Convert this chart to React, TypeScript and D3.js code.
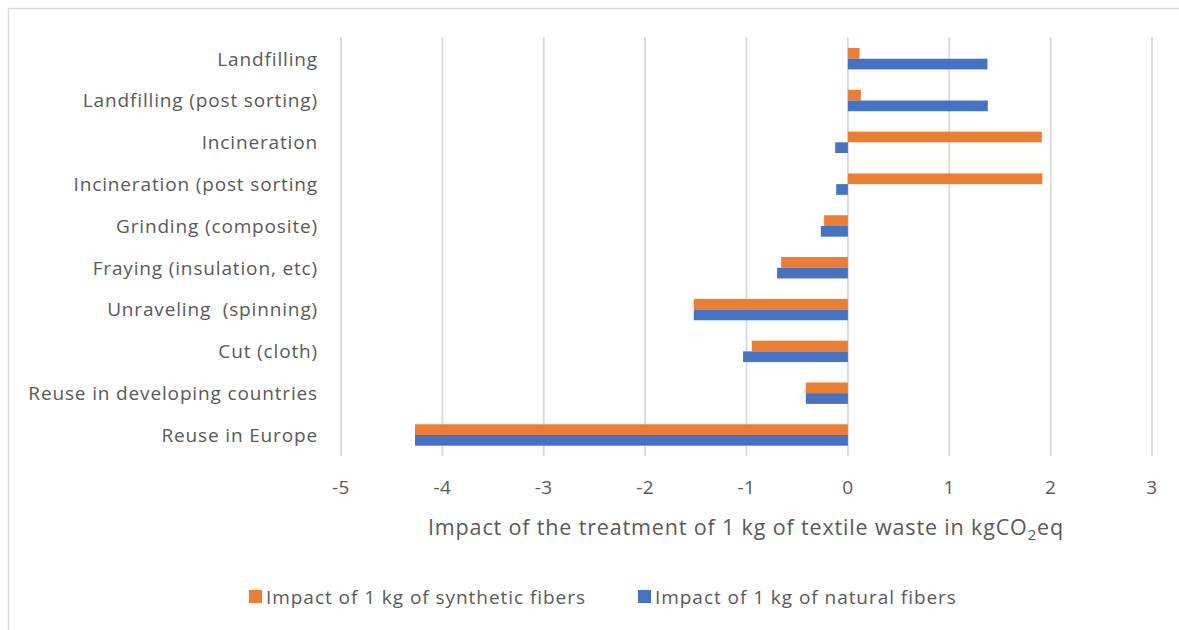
import React from "react";
import * as d3 from "d3";

const categories = [
  "Landfilling",
  "Landfilling (post sorting)",
  "Incineration",
  "Incineration (post sorting",
  "Grinding (composite)",
  "Fraying (insulation, etc)",
  "Unraveling  (spinning)",
  "Cut (cloth)",
  "Reuse in developing countries",
  "Reuse in Europe",
];
const syntheticValues = [0.115, 0.128, 1.913, 1.918, -0.234, -0.658, -1.52, -0.948, -0.415, -4.27];
const naturalValues = [1.377, 1.38, -0.125, -0.115, -0.267, -0.698, -1.52, -1.034, -0.415, -4.27];
const xTicks = [-5, -4, -3, -2, -1, 0, 1, 2, 3];
const seriesNames = ["Impact of 1 kg of synthetic fibers", "Impact of 1 kg of natural fibers"];
const seriesColors = ["#ED7D31", "#4472C4"];

const W = 1179;
const H = 630;
const FONT = "'Open Sans', 'Liberation Sans', sans-serif";

export default function App() {
  const x = d3.scaleLinear().domain([-5, 3]).range([341, 1152]);
  const y = d3.scaleBand<string>().domain(categories).range([37.8, 455.9]).paddingInner(0).paddingOuter(0);
  const series = [syntheticValues, naturalValues];
  const barH = 10.7;
  const inner = d3.scaleBand<number>().domain([0, 1]).range([0, barH * 2]);

  return (
    <svg
      width={W}
      height={H}
      style={{ position: "fixed", left: 0, top: 0, background: "#fff" }}
      fontFamily={FONT}
    >
      <rect x={0} y={0} width={W} height={H} fill="#fff" />
      <path d={`M8.5,${H + 5} L8.5,8.5 L${W + 5},8.5`} fill="none" stroke="#d9d9d9" strokeWidth={1.5} />
      {xTicks.map((t) => (
        <line key={"g" + t} x1={x(t)} x2={x(t)} y1={37} y2={456} stroke="#d9d9d9" strokeWidth={1.8} />
      ))}
      {xTicks.map((t) => (
        <text key={"t" + t} x={x(t)} y={494} textAnchor="middle" fontSize={19} letterSpacing={0.5} fill="#595959">
          {t}
        </text>
      ))}
      {categories.map((c, i) => {
        const y0 = (y(c) as number) + y.bandwidth() / 2 - barH;
        return (
          <g key={c}>
            {series.map((vals, s) => {
              const v = vals[i];
              return (
                <rect
                  key={s}
                  x={Math.min(x(0), x(v))}
                  width={Math.abs(x(v) - x(0))}
                  y={y0 + (inner(s) as number)}
                  height={inner.bandwidth()}
                  fill={seriesColors[s]}
                />
              );
            })}
            <text
              x={318}
              y={(y(c) as number) + y.bandwidth() / 2 + 6.8}
              textAnchor="end"
              fontSize={19}
              letterSpacing={0.85}
              fill="#595959"
              style={{ whiteSpace: "pre" }}
            >
              {c}
            </text>
          </g>
        );
      })}
      <text x={746} y={535} textAnchor="middle" fontSize={21.5} letterSpacing={0.85} fill="#595959">
        Impact of the treatment of 1 kg of textile waste in kgCO
        <tspan fontSize={15} dy={5}>2</tspan>
        <tspan dy={-5}>eq</tspan>
      </text>
      {seriesNames.map((n, s) => {
        const sx = s === 0 ? 249 : 638;
        return (
          <g key={n}>
            <rect x={sx} y={590} width={13} height={13} fill={seriesColors[s]} />
            <text x={sx + 17} y={604} fontSize={19} letterSpacing={0.95} fill="#595959">
              {n}
            </text>
          </g>
        );
      })}
    </svg>
  );
}
